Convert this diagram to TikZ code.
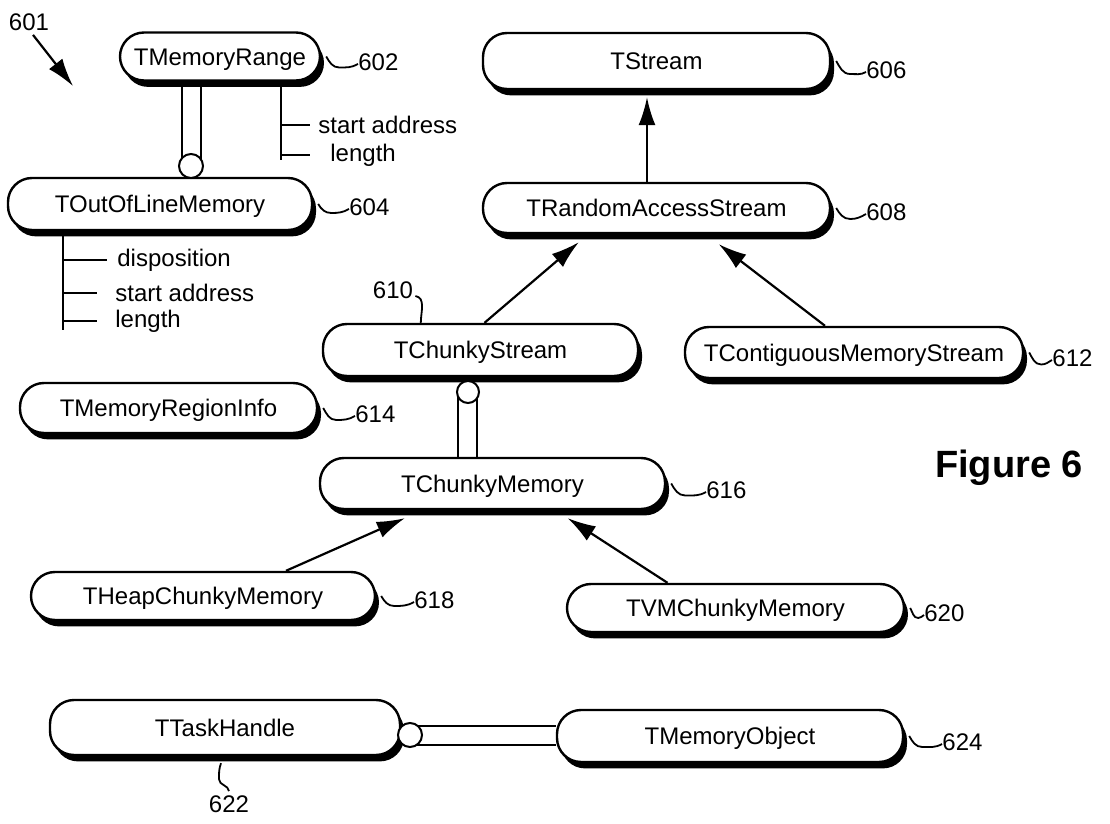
\documentclass[tikz,border=0pt]{standalone}
\usepackage{fontspec}
\setmainfont{Liberation Sans}
\usetikzlibrary{arrows.meta,shadows}
\begin{document}
\begin{tikzpicture}[x=0.5pt,y=-0.5pt,
  cls/.style 2 args={draw, line width=1.2pt, fill=white, rounded corners=12pt,
    minimum width=#1, minimum height=#2, inner sep=0pt,
    text height=8.6pt, text depth=0pt,
    font=\fontsize{12}{14}\selectfont,
    drop shadow={shadow xshift=2pt, shadow yshift=-3.2pt, opacity=1, fill=black}},
  lbl/.style={inner sep=0pt, font=\fontsize{12}{14}\selectfont},
  circ/.style={circle, draw, fill=white, line width=1pt, inner sep=0pt, minimum size=#1},
  arr/.style={line width=1.1pt, -{Latex[length=14pt,width=8.5pt]}},
  dbl/.style={line width=1pt},
  squig/.style={line width=0.9pt},
  attr/.style={line width=1pt},
  vattr/.style={line width=1.3pt}]
\path[use as bounding box, fill=white] (0,0) rectangle (1110,824);

% class boxes
\node[cls={100pt}{24pt}]     (mr)  at (220,56.5)  {TMemoryRange};
\node[cls={152pt}{26pt}]     (ool) at (160,204)   {TOutOfLineMemory};
\node[cls={173.5pt}{28pt}]   (ts)  at (656.5,61)  {TStream};
\node[cls={173.5pt}{25pt}]   (ras) at (656.5,208) {TRandomAccessStream};
\node[cls={157.5pt}{26pt}]   (cs)  at (480.5,350) {TChunkyStream};
\node[cls={169pt}{25.5pt}]   (cms) at (854,352.5) {TContiguousMemoryStream};
\node[cls={148.5pt}{25pt}]   (mri) at (168.5,408) {TMemoryRegionInfo};
\node[cls={172.5pt}{25.5pt}] (cm)  at (492.5,483.5) {TChunkyMemory};
\node[cls={172pt}{24pt}]     (hcm) at (203,596)   {THeapChunkyMemory};
\node[cls={168.5pt}{24pt}]   (vcm) at (735.5,608) {TVMChunkyMemory};
\node[cls={175pt}{27.5pt}]   (th)  at (225,727.5) {TTaskHandle};
\node[cls={173pt}{26pt}]     (mo)  at (730,736)   {TMemoryObject};

% reference labels
\node[lbl] (l601) at (29,22) {601};
\node[lbl, anchor=west] (l602) at (358,62)  {602};
\node[lbl, anchor=west] (l604) at (349,207) {604};
\node[lbl, anchor=west] (l606) at (866,70)  {606};
\node[lbl, anchor=west] (l608) at (866,212) {608};
\node[lbl] (l610) at (393,290) {610};
\node[lbl, anchor=west] (l612) at (1052,358) {612};
\node[lbl, anchor=west] (l614) at (355,414) {614};
\node[lbl, anchor=west] (l616) at (706,490) {616};
\node[lbl, anchor=west] (l618) at (414,600) {618};
\node[lbl, anchor=west] (l620) at (924,613) {620};
\node[lbl] (l622) at (229,804) {622};
\node[lbl, anchor=west] (l624) at (942,742) {624};
\node[inner sep=0pt, font=\bfseries\fontsize{19}{22}\selectfont] (fig) at (1009,468) {Figure 6};

% squiggles
\draw[squig] ([xshift=2.5pt]mr.east)  to[out=-60,in=180] ++(13,11) to[out=0,in=210] ([yshift=-1pt]l602.west);
\draw[squig] ([xshift=2.5pt]ool.east) to[out=-60,in=180] ++(13,9)  to[out=0,in=210] ([yshift=-1pt]l604.west);
\draw[squig] ([xshift=2.5pt]ts.east)  to[out=-60,in=180] ++(14,13) to[out=0,in=210] ([yshift=-1pt]l606.west);
\draw[squig] ([xshift=2.5pt]ras.east) to[out=-60,in=180] ++(14,11) to[out=0,in=210] ([yshift=-1pt]l608.west);
\draw[squig] ([xshift=2.5pt]cms.east) to[out=-60,in=180] ++(12,12) to[out=0,in=210] ([yshift=-1pt]l612.west);
\draw[squig] ([xshift=2.5pt]mri.east) to[out=-60,in=180] ++(13,12) to[out=0,in=210] ([yshift=-1pt]l614.west);
\draw[squig] ([xshift=2.5pt]cm.east)  to[out=-60,in=180] ++(14,12) to[out=0,in=210] ([yshift=-1pt]l616.west);
\draw[squig] ([xshift=2.5pt]hcm.east) to[out=-60,in=180] ++(13,10) to[out=0,in=210] ([yshift=-1pt]l618.west);
\draw[squig] ([xshift=2.5pt]vcm.east) to[out=-60,in=180] ++(8,10)  to[out=0,in=210] ([yshift=-1pt]l620.west);
\draw[squig] ([xshift=2.5pt]mo.east)  to[out=-60,in=180] ++(13,11) to[out=0,in=210] ([yshift=-1pt]l624.west);
\draw[squig] ([xshift=1pt,yshift=-3pt]l610.east) to[out=-10,in=90] ([xshift=49.5pt]cs.north west);
\draw[squig] ([xshift=-2pt,yshift=-3.5pt]th.south) to[out=-110,in=90] ++(-2,16) to[out=-90,in=95] ([yshift=2pt]l622.north);

% figure arrow 601
\coordinate (a601) at (73,86);
\draw[arr] ([xshift=2pt,yshift=-2pt]l601.south) -- (a601);

% inheritance arrows
\draw[arr] ([xshift=-4.75pt]ras.north) -- ([xshift=-4.75pt,yshift=-3.5pt]ts.south);
\draw[arr] ([xshift=2pt]cs.north) -- ([xshift=48.5pt,yshift=-4pt]ras.south west);
\draw[arr] ([xshift=-14.5pt]cms.north) -- ([xshift=118.5pt,yshift=-5pt]ras.south west);
\draw[arr] ([xshift=41.5pt]hcm.north) -- ([xshift=43pt,yshift=-4pt]cm.south west);
\draw[arr] ([xshift=-34pt]vcm.north) -- ([xshift=124.5pt,yshift=-4pt]cm.south west);

% attribute trees
\node[lbl, anchor=west] (sa1)  at (318,125) {start address};
\node[lbl, anchor=west] (len1) at (330,155) {length};
\coordinate (v1) at (281,160);
\draw[vattr] (v1 |- mr.south) -- (v1);
\draw[attr] (v1 |- sa1.west) -- ([xshift=-4pt]sa1.west);
\draw[attr] (v1 |- len1.west) -- ([xshift=-10pt]len1.west);

\node[lbl, anchor=west] (disp) at (117,260) {disposition};
\node[lbl, anchor=west] (sa2)  at (115,293) {start address};
\node[lbl, anchor=west] (len2) at (115,321) {length};
\coordinate (v2) at (63,330);
\draw[vattr] (v2 |- ool.south) -- (v2);
\draw[attr] (v2 |- disp.west) -- ([xshift=-5pt]disp.west);
\draw[attr] (v2 |- sa2.west) -- ([xshift=-9pt]sa2.west);
\draw[attr] (v2 |- len2.west) -- ([xshift=-9pt]len2.west);

% has-a double connectors with circles
\coordinate (c1c) at (191,166);
\coordinate (c1L) at (182,166);
\coordinate (c1R) at (201,166);
\draw[dbl] (c1L |- mr.south) -- (c1L);
\draw[dbl] (c1R |- mr.south) -- (c1R);
\node[circ=12pt] (c1) at (c1c) {};

\coordinate (c2c) at (468,392);
\coordinate (c2L) at (458,392);
\coordinate (c2R) at (477,392);
\draw[dbl] (c2L) -- (c2L |- cm.north);
\draw[dbl] (c2R) -- (c2R |- cm.north);
\node[circ=11pt] (c2) at (c2c) {};

\coordinate (c3c) at (410,735);
\coordinate (c3T) at (410,726);
\coordinate (c3B) at (410,745);
\draw[dbl] (c3T) -- (c3T -| mo.west);
\draw[dbl] (c3B) -- (c3B -| mo.west);
\node[circ=12pt] (c3) at (c3c) {};
\end{tikzpicture}
\end{document}
